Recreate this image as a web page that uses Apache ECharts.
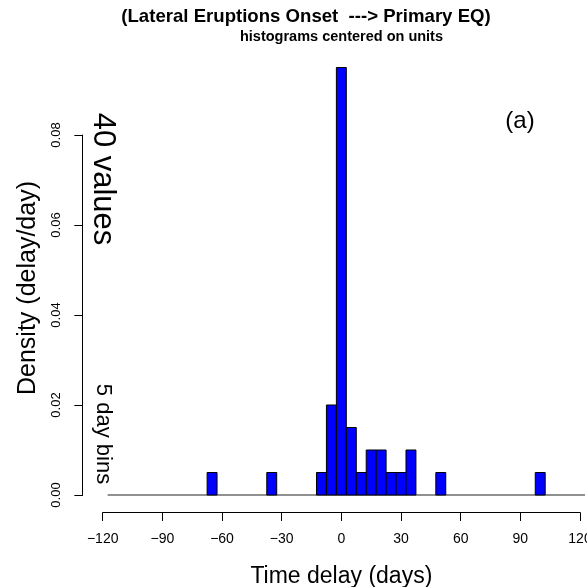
<!DOCTYPE html>
<html>
<head>
<meta charset="utf-8">
<script src="https://cdn.jsdelivr.net/npm/echarts@6/dist/echarts.min.js"></script>
<style>
  html, body { margin: 0; padding: 0; background: #fff; }
  #chart { width: 587px; height: 587px; }
</style>
</head>
<body>
<div id="chart"></div>
<script>
// Histogram of delays between lateral eruption onset and the primary earthquake.
// 5-day bins centred on multiples of 5 days; heights are densities.
const binCenters = [-65, -35, -10, -5, 0, 5, 10, 15, 20, 25, 30, 35, 50, 100];
const binCounts  = [1, 1, 1, 4, 19, 3, 1, 2, 2, 1, 1, 2, 1, 1];
const binWidth = 5;          // days per bin
const nValues = 40;          // total number of delays
const histRange = [-117.5, 122.5];   // full extent of the bin breaks
const xTickLabels = ['-120', '-90', '-60', '-30', '0', '30', '60', '90', '120'];
const yTickLabels = ['0.00', '0.02', '0.04', '0.06', '0.08'];

const FONT = "'Liberation Sans', Arial, Helvetica, sans-serif";

const densities = binCenters.map((c, i) => [c, binCounts[i] / (nValues * binWidth)]);
const xMin = Number(xTickLabels[0]);
const xMax = Number(xTickLabels[xTickLabels.length - 1]);
const yMax = Number(yTickLabels[yTickLabels.length - 1]);
const Y_AXIS_OFFSET = 20;    // y axis sits apart from the plot, R style
const Y_TICK_LEN = 8;

// pixel column of the detached y axis, derived from the x scale
function yAxisX(api) {
  return Math.floor(api.coord([xMin, 0])[0] - Y_AXIS_OFFSET) + 0.5;
}

const chart = echarts.init(document.getElementById('chart'));

chart.setOption({
  animation: false,
  grid: { left: 102.7, right: 7, top: 135, bottom: 92, outerBoundsMode: 'none' },
  xAxis: {
    type: 'value',
    min: xMin,
    max: xMax,
    interval: 30,
    offset: 17.5,
    name: 'Time delay (days)',
    nameLocation: 'middle',
    nameGap: 53,
    nameTextStyle: { fontFamily: FONT, fontSize: 23, color: '#000' },
    axisLine: { show: true, onZero: false, lineStyle: { color: '#000', width: 1 } },
    axisTick: { show: true, length: 8.5, lineStyle: { color: '#000', width: 1 } },
    axisLabel: {
      fontFamily: FONT, fontSize: 14, color: '#000', margin: 20,
      formatter: v => String(v).replace('-', '\u2212')
    },
    splitLine: { show: false }
  },
  yAxis: {
    type: 'value',
    min: 0,
    max: yMax,
    interval: 0.02,
    offset: Y_AXIS_OFFSET,
    axisLine: { show: true, onZero: false, lineStyle: { color: '#000', width: 1 } },
    axisTick: { show: true, length: Y_TICK_LEN, lineStyle: { color: '#000', width: 1 } },
    axisLabel: {
      fontFamily: FONT, fontSize: 13, color: '#000', margin: 20, rotate: 90,
      formatter: v => v.toFixed(2)
    },
    splitLine: { show: false }
  },
  graphic: [
    { type: 'text', style: {
        text: '(Lateral Eruptions Onset  ---> Primary EQ)', x: 306, y: 17,
        textAlign: 'center', textVerticalAlign: 'middle',
        font: 'bold 18.6px ' + FONT, fill: '#000' } },
    { type: 'text', style: {
        text: 'histograms centered on units', x: 341.5, y: 37,
        textAlign: 'center', textVerticalAlign: 'middle',
        font: 'bold 14.5px ' + FONT, fill: '#000' } },
    { type: 'text', x: 28, y: 288, rotation: Math.PI / 2, style: {
        text: 'Density (delay/day)', x: 0, y: 0,
        textAlign: 'center', textVerticalAlign: 'middle',
        font: '25px ' + FONT, fill: '#000' } },
    { type: 'text', x: 103, y: 179, rotation: -Math.PI / 2, style: {
        text: nValues + ' values', x: 0, y: 0,
        textAlign: 'center', textVerticalAlign: 'middle',
        font: '31px ' + FONT, fill: '#000' } },
    { type: 'text', x: 103, y: 434, rotation: -Math.PI / 2, style: {
        text: binWidth + ' day bins', x: 0, y: 0,
        textAlign: 'center', textVerticalAlign: 'middle',
        font: '22px ' + FONT, fill: '#000' } },
    { type: 'text', style: {
        text: '(a)', x: 520, y: 121,
        textAlign: 'center', textVerticalAlign: 'middle',
        font: '24px ' + FONT, fill: '#000' } }
  ],
  series: [
    {
      // zero-height bins form the baseline across the full break range
      type: 'custom',
      clip: false,
      silent: true,
      z: 1,
      data: [histRange],
      renderItem: function (params, api) {
        const a = api.coord([api.value(0), 0]);
        const b = api.coord([api.value(1), 0]);
        return {
          type: 'line',
          shape: { x1: a[0], y1: a[1], x2: b[0], y2: b[1] },
          style: { stroke: '#222', lineWidth: 1 }
        };
      }
    },
    {
      type: 'custom',
      clip: false,
      z: 2,
      data: densities,
      renderItem: function (params, api) {
        const c = api.value(0);
        const d = api.value(1);
        const p0 = api.coord([c - binWidth / 2, d]);
        const p1 = api.coord([c + binWidth / 2, 0]);
        return {
          type: 'rect',
          shape: { x: p0[0], y: p0[1], width: p1[0] - p0[0], height: p1[1] - p0[1] },
          style: { fill: '#0000ff', stroke: '#000', lineWidth: 1 }
        };
      }
    },
    {
      // detached y axis spine from 0 to the top tick
      type: 'custom',
      clip: false,
      silent: true,
      z: 5,
      data: [[0, yMax]],
      renderItem: function (params, api) {
        const x = yAxisX(api);
        const y0 = api.coord([xMin, api.value(0)])[1];
        const y1 = api.coord([xMin, api.value(1)])[1];
        return {
          type: 'line',
          shape: { x1: x, y1: y0, x2: x, y2: y1 },
          style: { stroke: '#000', lineWidth: 1 }
        };
      }
    },
    {
      // y axis tick marks
      type: 'custom',
      clip: false,
      silent: true,
      z: 5,
      data: yTickLabels.map(t => [xMin, Number(t)]),
      renderItem: function (params, api) {
        const x = yAxisX(api);
        const y = Math.floor(api.coord([xMin, api.value(1)])[1]) + 0.5;
        return {
          type: 'line',
          shape: { x1: x - Y_TICK_LEN, y1: y, x2: x, y2: y },
          style: { stroke: '#000', lineWidth: 1 }
        };
      }
    }
  ]
});
</script>
</body>
</html>
